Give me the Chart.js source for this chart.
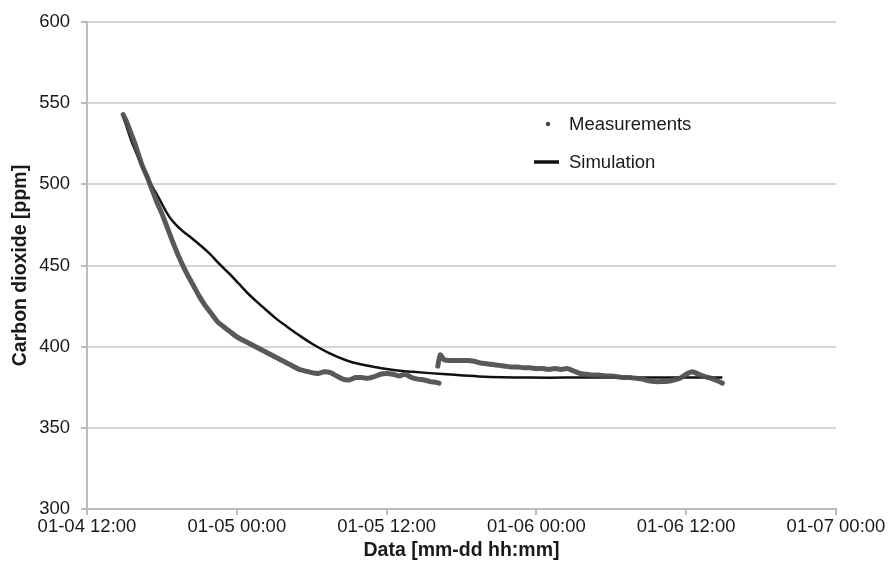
<!DOCTYPE html>
<html><head><meta charset="utf-8">
<script src="https://cdn.jsdelivr.net/npm/chart.js@4"></script>
<style>html,body{margin:0;padding:0;background:#fff}#wrap{width:890px;height:567px}</style>
</head><body><div id="wrap"><canvas id="c" width="890" height="567"></canvas></div>
<script>
// x values are hours since 01-04 12:00
const xTickLabels = ['01-04 12:00','01-05 00:00','01-05 12:00','01-06 00:00','01-06 12:00','01-07 00:00'];
const yTicks = [300,350,400,450,500,550,600];

const measHoursA = [2.9,3.2,3.5,3.8,4.1,4.4,4.8,5.2,5.6,6.0,6.5,7.0,7.5,8.0,8.5,9.0,9.5,10.0,10.5,11.0,11.5,12.0,12.5,13.0,13.5,14.0,14.5,15.0,15.5,16.0,16.5,17.0,17.5,18.0,18.5,19.0,19.5,20.0,20.5,21.0,21.5,22.0,22.5,23.0,23.5,24.0,24.5,25.0,25.5,26.0,26.5,27.0,27.5,28.0,28.2];
const measPpmA   = [543,538,532,526,519,512,505,497,489,482,472,462,453,445,438,431,425,420,415,412,409,406,404,402,400,398,396,394,392,390,388,386,385,384,383.5,384.5,384,382,380,379.5,381,381,380.5,381.5,383,383.5,383,382,383,381,380,379.5,378.5,378,377.5];
const measHoursB = [28.1,28.3,28.6,29.0,29.5,30.0,30.5,31.0,31.5,32.0,32.5,33.0,33.5,34.0,34.5,35.0,35.5,36.0,36.5,37.0,37.5,38.0,38.5,39.0,39.5,40.0,40.5,41.0,41.5,42.0,42.5,43.0,43.5,44.0,44.5,45.0,45.5,46.0,46.5,47.0,47.5,48.0,48.5,49.0,49.5,50.0,50.5,50.9];
const measPpmB   = [388,395,392,391.5,391.5,391.5,391.5,391,390,389.5,389,388.5,388,387.5,387.5,387,387,386.5,386.5,386,386.5,386,386.5,385,383.5,383,382.5,382.5,382,382,381.5,381,381,380.5,380,379,378.5,378.5,378.7,379.5,380.5,383,384.5,383,381.5,380.5,379,377.5];

const simHours = [2.9,3.7,4.8,5.8,6.6,7.4,8.2,9.0,9.8,10.6,11.4,12.2,13.0,14.0,15.2,16.0,17.0,18.1,19.4,20.8,22.0,23.4,24.7,26.1,28.8,31.4,35.4,40,45,50.9];
const simPpm   = [542,524,505,491,480,473,468,463,457.5,451,445,438.5,432,425,417,412.5,407,401.5,396,391.5,389,387,385.5,384.5,383,381.7,381,381,381,381];

const measData = measHoursA.map((h,i)=>({x:h,y:measPpmA[i]}))
  .concat([{x:28.15,y:null}])
  .concat(measHoursB.map((h,i)=>({x:h,y:measPpmB[i]})));
const simData = simHours.map((h,i)=>({x:h,y:simPpm[i]}));

const FONT = '"Liberation Sans", Arial, sans-serif';

const legendPlugin = {
  id:'inlegend',
  afterDraw(chart){
    const ctx = chart.ctx;
    ctx.save();
    ctx.font = '18.5px ' + FONT;
    ctx.textBaseline = 'middle';
    ctx.textAlign = 'left';
    ctx.beginPath(); ctx.arc(548,124,2.2,0,Math.PI*2); ctx.fillStyle='#444'; ctx.fill();
    ctx.fillStyle = '#1a1a1a';
    ctx.fillText('Measurements', 569, 125);
    ctx.strokeStyle='#111'; ctx.lineWidth=3.5;
    ctx.beginPath(); ctx.moveTo(534,162); ctx.lineTo(559,162); ctx.stroke();
    ctx.fillText('Simulation', 569, 163);
    ctx.restore();
  }
};

new Chart(document.getElementById('c'), {
  type:'line',
  data:{datasets:[
    {label:'Measurements', data:measData, borderColor:'rgba(80,80,80,0.95)', borderWidth:5, pointRadius:0, pointHoverRadius:0, spanGaps:false, tension:0.2, borderJoinStyle:'round', borderCapStyle:'round', order:0},
    {label:'Simulation', data:simData, borderColor:'#111', borderWidth:2.5, pointRadius:0, tension:0.4, order:1}
  ]},
  options:{
    responsive:false, animation:false,
    layout:{padding:{top:17,right:54,left:0,bottom:0}},
    plugins:{legend:{display:false}, tooltip:{enabled:false}},
    scales:{
      x:{type:'linear', min:0, max:60,
        afterFit(s){ s.height = 58; },
        afterBuildTicks(s){ s.ticks = xTickLabels.map((_,i)=>({value:i*12})); },
        ticks:{callback:(v)=>xTickLabels[Math.round(v/12)], font:{family:FONT, size:18.5}, color:'#1a1a1a', padding:1, maxRotation:0, autoSkip:false},
        grid:{drawOnChartArea:false, drawTicks:true, tickLength:6, color:'#bbb', lineWidth:2},
        border:{display:true, color:'#bbb', width:2},
        title:{display:true, text:'Data [mm-dd hh:mm]', font:{family:FONT, size:19.5, weight:'bold'}, color:'#1a1a1a', padding:{top:0,bottom:5}}
      },
      y:{min:300, max:600,
        afterFit(s){ s.width = 87; },
        afterBuildTicks(s){ s.ticks = yTicks.map(v=>({value:v})); },
        ticks:{font:{family:FONT, size:18.5}, color:'#1a1a1a', padding:11},
        grid:{color:'#d6d6d6', lineWidth:2, tickLength:6, tickColor:'#bbb'},
        border:{display:true, color:'#bbb', width:2},
        title:{display:true, text:'Carbon dioxide [ppm]', font:{family:FONT, size:19.5, weight:'bold'}, color:'#1a1a1a', padding:{top:9,bottom:0}}
      }
    }
  },
  plugins:[legendPlugin]
});
</script>
</body></html>
